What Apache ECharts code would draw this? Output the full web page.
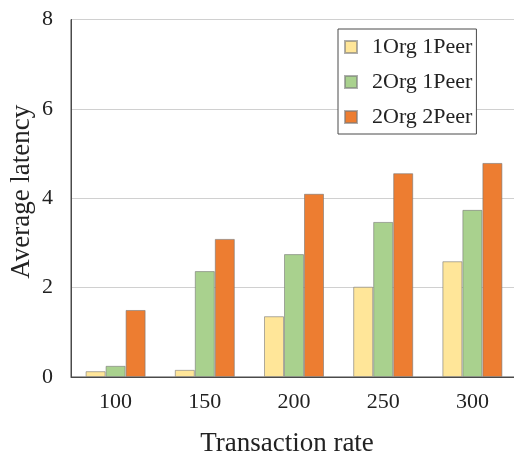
<!DOCTYPE html>
<html>
<head>
<meta charset="utf-8">
<script src="https://cdn.jsdelivr.net/npm/echarts@6/dist/echarts.min.js"></script>
<style>
html,body{margin:0;padding:0;background:#fff;}
#chart{width:514px;height:457px;}
</style>
</head>
<body>
<div id="chart"></div>
<script>
var categories = ['100', '150', '200', '250', '300'];
var seriesNames = ['1Org 1Peer', '2Org 1Peer', '2Org 2Peer'];
var org1peer1 = [0.13, 0.16, 1.36, 2.02, 2.59];
var org2peer1 = [0.25, 2.37, 2.75, 3.47, 3.74];
var org2peer2 = [1.50, 3.09, 4.10, 4.56, 4.79];
var yTicks = [0, 2, 4, 6, 8];
var colors = ['#FFE699', '#A9D18E', '#ED7D31'];

var font = '"Liberation Serif", "Times New Roman", serif';
var chart = echarts.init(document.getElementById('chart'), null, {renderer: 'canvas'});
var values = [org1peer1, org2peer1, org2peer2];
chart.setOption({
  animation: false,
  backgroundColor: '#ffffff',
  grid: {left: 71, right: -3, top: 19.5, bottom: 80, show: true, borderColor: '#4a4a4a', borderWidth: 1, backgroundColor: 'transparent', containLabel: false, outerBoundsMode: 'none'},
  legend: {
    data: seriesNames,
    orient: 'vertical',
    left: 338, top: 29,
    itemWidth: 12, itemHeight: 12,
    itemGap: 13,
    padding: [7, 4, 6, 6],
    backgroundColor: '#fff',
    borderColor: '#4a4a4a',
    borderWidth: 1,
    icon: 'rect',
    textStyle: {fontFamily: font, fontSize: 22, color: '#222', padding: [0, 0, 0, 10]}
  },
  xAxis: {
    type: 'category',
    data: categories,
    name: 'Transaction rate',
    nameLocation: 'middle',
    nameGap: 53,
    nameMoveOverlap: false,
    nameTextStyle: {fontFamily: font, fontSize: 27, color: '#222', padding: [0, 14, 0, 0]},
    axisLine: {lineStyle: {color: '#4a4a4a', width: 1}},
    axisTick: {show: false},
    axisLabel: {fontFamily: font, fontSize: 22, color: '#222', margin: 14}
  },
  yAxis: {
    type: 'value',
    min: yTicks[0], max: yTicks[yTicks.length - 1], interval: 2,
    name: 'Average latency',
    nameLocation: 'middle',
    nameGap: 36,
    nameMoveOverlap: false,
    nameTextStyle: {fontFamily: font, fontSize: 27, color: '#222', padding: [0, 0, 0, 13]},
    axisLine: {show: true, lineStyle: {color: '#4a4a4a', width: 1}},
    axisTick: {show: false},
    axisLabel: {fontFamily: font, fontSize: 22, color: '#222', margin: 18},
    splitLine: {lineStyle: {color: '#d0d0d0', width: 1}}
  },
  series: seriesNames.map(function (n, i) {
    return {
      name: n,
      type: 'bar',
      data: values[i],
      barWidth: 20,
      barGap: '0%',
      itemStyle: {color: colors[i], borderColor: 'rgba(120,120,120,0.6)', borderWidth: 1}
    };
  })
});
</script>
</body>
</html>
